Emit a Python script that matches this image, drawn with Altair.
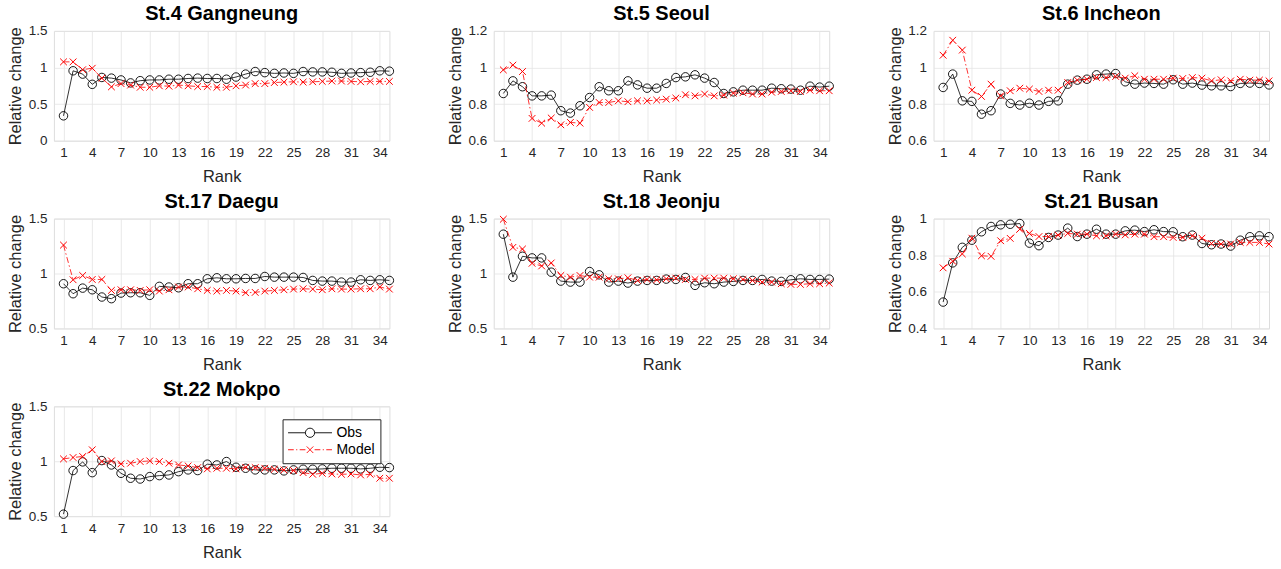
import altair as alt
import pandas as pd

FONT = "Liberation Sans"
TXT = "#262626"
GRID = "#e3e3e3"

rank = list(range(1, 36))
x_ticks = list(range(1, 36, 3))

titles = ["St.4 Gangneung", "St.5 Seoul", "St.6 Incheon", "St.17 Daegu",
          "St.18 Jeonju", "St.21 Busan", "St.22 Mokpo"]

obs_gangneung = [0.34, 0.955, 0.91, 0.77, 0.864, 0.855, 0.83, 0.79, 0.82, 0.83,
                 0.83, 0.84, 0.84, 0.85, 0.855, 0.85, 0.85, 0.84, 0.87, 0.91,
                 0.945, 0.93, 0.92, 0.925, 0.92, 0.945, 0.94, 0.94, 0.935, 0.92,
                 0.925, 0.93, 0.935, 0.955, 0.95]
model_gangneung = [1.077, 1.077, 0.97, 0.99, 0.855, 0.736, 0.78, 0.76, 0.73, 0.73,
                   0.75, 0.745, 0.76, 0.75, 0.74, 0.74, 0.73, 0.73, 0.75, 0.76,
                   0.78, 0.78, 0.795, 0.80, 0.805, 0.80, 0.805, 0.81, 0.815, 0.815,
                   0.81, 0.805, 0.81, 0.81, 0.81]

obs_seoul = [0.858, 0.927, 0.895, 0.845, 0.845, 0.849, 0.764, 0.751, 0.791, 0.836,
             0.895, 0.873, 0.873, 0.927, 0.905, 0.887, 0.887, 0.913, 0.945, 0.949,
             0.96, 0.942, 0.918, 0.858, 0.867, 0.876, 0.876, 0.876, 0.887, 0.884,
             0.882, 0.876, 0.898, 0.893, 0.898]
model_seoul = [0.987, 1.013, 0.978, 0.722, 0.696, 0.724, 0.687, 0.70, 0.696, 0.782,
               0.809, 0.809, 0.818, 0.813, 0.818, 0.818, 0.822, 0.827, 0.833, 0.851,
               0.845, 0.855, 0.845, 0.849, 0.86, 0.862, 0.855, 0.855, 0.865, 0.869,
               0.873, 0.869, 0.876, 0.873, 0.873]

obs_incheon = [0.891, 0.964, 0.818, 0.815, 0.745, 0.764, 0.855, 0.804, 0.795, 0.805,
               0.795, 0.815, 0.818, 0.909, 0.931, 0.936, 0.96, 0.964, 0.967, 0.922,
               0.909, 0.915, 0.913, 0.909, 0.933, 0.909, 0.915, 0.904, 0.90, 0.90,
               0.896, 0.913, 0.915, 0.913, 0.905]
model_incheon = [1.067, 1.149, 1.095, 0.876, 0.842, 0.909, 0.845, 0.873, 0.887, 0.882,
                 0.869, 0.876, 0.876, 0.918, 0.931, 0.936, 0.945, 0.945, 0.951, 0.942,
                 0.955, 0.936, 0.936, 0.936, 0.942, 0.94, 0.945, 0.942, 0.927, 0.933,
                 0.927, 0.936, 0.931, 0.931, 0.927]

obs_daegu = [0.907, 0.816, 0.867, 0.852, 0.786, 0.771, 0.822, 0.825, 0.825, 0.801,
             0.883, 0.877, 0.87, 0.907, 0.907, 0.952, 0.961, 0.952, 0.952, 0.955,
             0.955, 0.973, 0.967, 0.967, 0.967, 0.964, 0.937, 0.931, 0.931, 0.922,
             0.922, 0.943, 0.937, 0.943, 0.937]
model_daegu = [1.259, 0.943, 0.982, 0.946, 0.946, 0.846, 0.852, 0.852, 0.846, 0.852,
               0.84, 0.852, 0.877, 0.877, 0.861, 0.846, 0.84, 0.846, 0.84, 0.825,
               0.828, 0.84, 0.846, 0.852, 0.858, 0.861, 0.858, 0.852, 0.861, 0.858,
               0.858, 0.861, 0.861, 0.877, 0.858]

obs_jeonju = [1.358, 0.967, 1.157, 1.142, 1.142, 1.012, 0.931, 0.922, 0.922, 1.018,
              0.988, 0.922, 0.931, 0.913, 0.931, 0.937, 0.937, 0.949, 0.946, 0.964,
              0.892, 0.916, 0.907, 0.922, 0.928, 0.937, 0.937, 0.946, 0.931, 0.928,
              0.943, 0.952, 0.946, 0.946, 0.949]
model_jeonju = [1.494, 1.238, 1.223, 1.093, 1.069, 1.096, 0.982, 0.967, 0.982, 0.967,
                0.967, 0.952, 0.952, 0.961, 0.937, 0.946, 0.943, 0.952, 0.958, 0.946,
                0.946, 0.958, 0.958, 0.958, 0.952, 0.946, 0.937, 0.922, 0.922, 0.907,
                0.901, 0.901, 0.907, 0.907, 0.913]

obs_busan = [0.544, 0.758, 0.843, 0.882, 0.928, 0.957, 0.966, 0.969, 0.973, 0.866,
             0.852, 0.897, 0.91, 0.948, 0.902, 0.915, 0.942, 0.915, 0.915, 0.933,
             0.937, 0.929, 0.939, 0.929, 0.928, 0.901, 0.91, 0.864, 0.857, 0.861,
             0.85, 0.882, 0.901, 0.906, 0.901]
model_busan = [0.731, 0.767, 0.807, 0.893, 0.797, 0.794, 0.879, 0.892, 0.942, 0.919,
               0.902, 0.902, 0.91, 0.919, 0.915, 0.915, 0.906, 0.906, 0.915, 0.911,
               0.915, 0.915, 0.901, 0.901, 0.897, 0.897, 0.906, 0.893, 0.864, 0.861,
               0.861, 0.87, 0.87, 0.87, 0.861]

obs_mokpo = [0.518, 0.915, 0.994, 0.896, 1.006, 0.966, 0.89, 0.845, 0.838, 0.86,
             0.869, 0.875, 0.905, 0.921, 0.915, 0.973, 0.966, 0.997, 0.945, 0.936,
             0.921, 0.921, 0.921, 0.912, 0.921, 0.927, 0.927, 0.93, 0.936, 0.936,
             0.936, 0.93, 0.936, 0.945, 0.942]
model_mokpo = [1.021, 1.034, 1.043, 1.104, 0.997, 1.003, 0.976, 0.982, 0.997, 1.003,
               0.997, 0.982, 0.966, 0.957, 0.942, 0.93, 0.936, 0.936, 0.93, 0.945,
               0.942, 0.936, 0.927, 0.921, 0.915, 0.896, 0.881, 0.89, 0.884, 0.881,
               0.884, 0.875, 0.881, 0.845, 0.845]

obs_all = [obs_gangneung, obs_seoul, obs_incheon, obs_daegu, obs_jeonju, obs_busan, obs_mokpo]
model_all = [model_gangneung, model_seoul, model_incheon, model_daegu, model_jeonju,
             model_busan, model_mokpo]
y_domains = [[0, 1.5], [0.6, 1.2], [0.6, 1.2], [0.5, 1.5], [0.5, 1.5], [0.4, 1.0], [0.5, 1.5]]
y_ticks = [[0, 0.5, 1, 1.5], [0.6, 0.8, 1, 1.2], [0.6, 0.8, 1, 1.2], [0.5, 1, 1.5],
           [0.5, 1, 1.5], [0.4, 0.6, 0.8, 1], [0.5, 1, 1.5]]

series_names = ["Obs", "Model"]

X_SHAPE = "M-1,-1L1,1M-1,1L1,-1"
r = 0.21
LEG_OBS = (f"M-1,0L{-r},0M{r},0L1,0M{r},0A{r},{r} 0 1 1 {-r},0A{r},{r} 0 1 1 {r},0")
s = 0.15
LEG_MODEL = ("M-1,0L-0.74,0M-0.63,0L-0.58,0M-0.47,0L-0.21,0"
             f"M{-s},{-s}L{s},{s}M{-s},{s}L{s},{-s}"
             "M0.21,0L0.47,0M0.58,0L0.63,0M0.74,0L1,0")

PW, PH = 336, 110


def panel(title, obs, model, ydom, yt, with_legend=False):
    df = pd.DataFrame({
        "Rank": rank + rank,
        "value": obs + model,
        "series": ["Obs"] * len(obs) + ["Model"] * len(model),
    })
    x = alt.X("Rank:Q",
              scale=alt.Scale(domain=[0, 35], nice=False, zero=False),
              axis=alt.Axis(values=x_ticks, title="Rank", grid=True, gridColor=GRID,
                            gridWidth=0.8, domain=False, ticks=False, labelPadding=5,
                            labelFontSize=13.5, labelFont=FONT, labelColor=TXT,
                            labelFlush=False, labelOverlap=False,
                            titleFontSize=16.5, titleFont=FONT, titleFontWeight="normal",
                            titleColor=TXT, titlePadding=4, minExtent=24, maxExtent=24))
    y = alt.Y("value:Q",
              scale=alt.Scale(domain=ydom, nice=False, zero=False),
              axis=alt.Axis(values=yt, format="~g", title="Relative change", grid=True,
                            gridColor=GRID, gridWidth=0.8, domain=False, ticks=False,
                            labelPadding=7, labelFontSize=13.5, labelFont=FONT,
                            labelColor=TXT, labelFlush=False, labelOverlap=False,
                            titleFontSize=16.5, titleFont=FONT, titleFontWeight="normal",
                            titleColor=TXT, titlePadding=5, minExtent=25, maxExtent=25))
    base = alt.Chart(df).encode(x=x, y=y)
    obs_line = base.transform_filter("datum.series == 'Obs'").mark_line(
        color="black", strokeWidth=0.8)
    obs_pts = base.transform_filter("datum.series == 'Obs'").mark_point(
        shape="circle", size=72, filled=False, color="black", strokeWidth=0.9, opacity=1)
    mod_line = base.transform_filter("datum.series == 'Model'").mark_line(
        color="#ff0000", strokeWidth=0.8, strokeDash=[6, 2.5, 1.5, 2.5])
    mod_pts = base.transform_filter("datum.series == 'Model'").mark_point(
        shape=X_SHAPE, size=45, filled=False, color="#ff0000", strokeWidth=1, opacity=1)
    layers = [obs_line, obs_pts, mod_line, mod_pts]
    if with_legend:
        leg = alt.Legend(title=None, orient="none", legendX=229, legendY=13,
                         direction="vertical", strokeColor=TXT, fillColor="white",
                         padding=5, labelFontSize=14, labelFont=FONT, labelColor="black",
                         symbolSize=1936, symbolStrokeWidth=0.9, clipHeight=17,
                         rowPadding=0, labelOffset=4, cornerRadius=0)
        leg_layer = base.transform_filter("false").mark_point(
            filled=False, opacity=1, strokeWidth=0.9).encode(
            color=alt.Color("series:N",
                            scale=alt.Scale(domain=series_names, range=["black", "#ff0000"]),
                            legend=leg),
            shape=alt.Shape("series:N",
                            scale=alt.Scale(domain=series_names, range=[LEG_OBS, LEG_MODEL]),
                            legend=leg),
        )
        layers.append(leg_layer)
    return alt.layer(*layers).properties(
        width=PW, height=PH,
        title=alt.TitleParams(text=title, fontSize=20, fontWeight="bold", font=FONT,
                              color="black", anchor="middle", frame="group",
                              baseline="alphabetic", offset=-16.5),
    )


panels = [panel(titles[i], obs_all[i], model_all[i], y_domains[i], y_ticks[i],
                with_legend=(i == 6)) for i in range(7)]

chart = alt.concat(*panels, columns=3, spacing={"row": 78, "column": 104.5},
                   bounds="flush").resolve_scale(
    color="independent", shape="independent"
).properties(
    padding={"left": 7, "top": 3.5, "right": 5, "bottom": 5},
    background="white",
).configure_view(stroke=TXT, strokeWidth=0.8).configure(font=FONT)

chart.save("out.html", embed_options={"renderer": "svg", "actions": False})
